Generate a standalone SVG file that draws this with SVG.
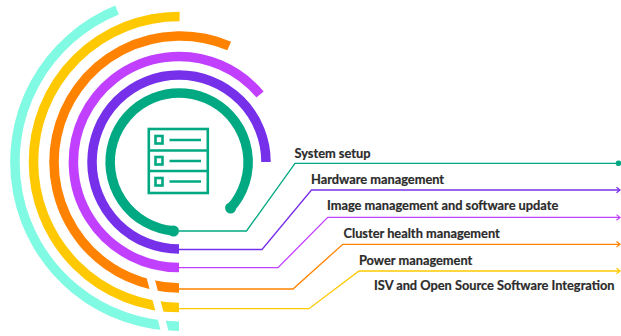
<svg xmlns="http://www.w3.org/2000/svg" width="621" height="336" viewBox="0 0 621 336">
<style>
.arc{fill:none;stroke-width:9.5;stroke-linecap:butt}
.c{fill:none;stroke-width:1.3}
.ic{fill:none;stroke:#01a982;stroke-width:2.6}
text{font-family:"Lato","Liberation Sans",sans-serif;font-weight:700;font-size:12.8px;fill:#2b2b2b;stroke:#2b2b2b;stroke-width:.2}
.g{stroke:#01a982}.p{stroke:#7630ea}.m{stroke:#c140ff}.o{stroke:#ff8300}.y{stroke:#fec901}.a{stroke:#80fae2}
</style>
<defs>
<marker id="ap" markerUnits="userSpaceOnUse" markerWidth="8" markerHeight="8" refX="5" refY="4" orient="auto"><path d="M1.5 1.2L5 4L1.5 6.8" fill="none" stroke="#7630ea" stroke-width="1.2"/></marker>
<marker id="am" markerUnits="userSpaceOnUse" markerWidth="8" markerHeight="8" refX="5" refY="4" orient="auto"><path d="M1.5 1.2L5 4L1.5 6.8" fill="none" stroke="#c140ff" stroke-width="1.2"/></marker>
<marker id="ao" markerUnits="userSpaceOnUse" markerWidth="8" markerHeight="8" refX="5" refY="4" orient="auto"><path d="M1.5 1.2L5 4L1.5 6.8" fill="none" stroke="#ff8300" stroke-width="1.2"/></marker>
<marker id="ay" markerUnits="userSpaceOnUse" markerWidth="8" markerHeight="8" refX="5" refY="4" orient="auto"><path d="M1.5 1.2L5 4L1.5 6.8" fill="none" stroke="#fec901" stroke-width="1.2"/></marker>
</defs>
<g id="rings">
<path class="arc a" d="M179 326.2A164.2 164.2 0 0 1 117 10"/>
<path class="arc y" d="M179 307.5A145.5 145.5 0 0 1 33.5 162A145.5 145.5 0 0 1 179.6 16.5"/>
<path class="arc o" d="M179 288A126 126 0 1 1 229.2 46"/>
<path class="arc m" d="M179 267.5A105.5 105.5 0 1 1 260 94.5"/>
<path class="arc p" d="M179 249A87 87 0 1 1 266 162"/>
<path class="arc g" d="M173.5 230.8A69 69 0 1 1 230.6 208"/>
<circle cx="173.5" cy="231" r="5.5" fill="#01a982"/>
<circle cx="230.6" cy="208" r="5.5" fill="#01a982"/>
<path d="M150 276L166 336" fill="none" stroke="#fff" stroke-width="7.5"/>
</g>
<g id="server-icon">
<rect class="ic" x="148.8" y="129" width="59" height="64"/>
<path class="ic" d="M148.8 150.5H207.8M148.8 171H207.8"/>
<rect class="ic" x="155.5" y="136" width="7" height="7.5"/>
<rect class="ic" x="155.5" y="157" width="7" height="7.5"/>
<rect class="ic" x="155.5" y="178" width="7" height="7.5"/>
<path class="ic" d="M169.5 140H201M169.5 161H201M169.5 181.5H201"/>
</g>
<g id="connectors">
<path class="c g" d="M179 231H246.5L295 163.3H619"/>
<circle cx="618.5" cy="163.3" r="2.8" fill="#01a982"/>
<path class="c p" d="M179 249.5H262L311.5 190H620" marker-end="url(#ap)"/>
<path class="c m" d="M179 267.7H278L327.7 217.4H620" marker-end="url(#am)"/>
<path class="c o" d="M179 289H293L342.8 244.3H620" marker-end="url(#ao)"/>
<path class="c y" d="M179 308.7H309L359 271H620" marker-end="url(#ay)"/>
</g>
<g id="node-system-setup"><text x="294.500" y="157.500">System setup</text></g>
<g id="node-hardware-management"><text x="311" y="184">Hardware management</text></g>
<g id="node-image-management"><text x="327" y="210">Image management and software update</text></g>
<g id="node-cluster-health"><text x="343.500" y="237.500">Cluster health management</text></g>
<g id="node-power-management"><text x="359" y="265">Power management</text></g>
<g id="node-isv"><text x="374" y="290">ISV and Open Source Software Integration</text></g>
</svg>
